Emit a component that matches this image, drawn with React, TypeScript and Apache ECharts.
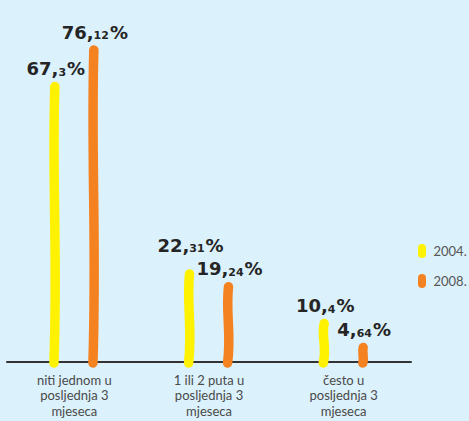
import React, { useEffect, useRef } from "react";
import * as echarts from "echarts";

const categories = [
  "niti jednom u\nposljednja 3\nmjeseca",
  "1 ili 2 puta u\nposljednja 3\nmjeseca",
  "često u\nposljednja 3\nmjeseca",
];
const seriesNames = ["2004.", "2008."];
const values2004 = [67.3, 22.31, 10.4];
const values2008 = [76.12, 19.24, 4.64];
const colors = ["#fff200", "#f58220"];
// extra lift (px) of value labels to keep neighbouring labels apart
const labelLift2004 = [0, 11, 0];
const labelLift2008 = [0, 0, 0];

const FONT = "Lato, 'Noto Sans', sans-serif";
const LABEL_FONT = "'DejaVu Sans', sans-serif";

function labelText(v: number) {
  const [a, b] = String(v).split(".");
  return `{big|${a},}{small|${b ?? ""}}{big|%}`;
}

function makeRender(offset: number, color: string, lifts: number[]) {
  return (params: any, api: any) => {
    const i = api.value(0);
    const v = api.value(1);
    const top = api.coord([i, v]);
    const base = api.coord([i, 0]);
    const x = top[0] + offset;
    const lw = 9.5;
    const y1 = base[1] + 1;
    const y2 = top[1] + lw / 2;
    const h = y1 - y2;
    const w = Math.min(3, h * 0.08);
    const lift = lifts[params.dataIndex] || 0;
    return {
      type: "group",
      children: [
        {
          type: "bezierCurve",
          shape: {
            x1: x - w * 0.3,
            y1,
            x2: x,
            y2,
            cpx1: x + w,
            cpy1: y1 - h * 0.4,
            cpx2: x - w,
            cpy2: y1 - h * 0.65,
          },
          style: { stroke: color, lineWidth: lw, fill: null, lineCap: "round" },
        },
        {
          type: "text",
          x: x + 1,
          y: top[1] - 4 - lift,
          style: {
            text: labelText(v),
            align: "center",
            verticalAlign: "bottom",
            fill: "#222",
            rich: {
              big: {
                fontSize: 18,
                fontWeight: "bold",
                fontFamily: LABEL_FONT,
                fill: "#252525",
                lineHeight: 20,
                verticalAlign: "bottom",
              },
              small: {
                fontSize: 11,
                fontWeight: "bold",
                fontFamily: LABEL_FONT,
                fill: "#252525",
                lineHeight: 20,
                verticalAlign: "bottom",
                padding: [0, 1, 0, 0],
              },
            },
          },
        },
      ],
    };
  };
}

const pill = "path://M4,0 A4,4 0 0 1 8,4 L8,10 A4,4 0 0 1 0,10 L0,4 A4,4 0 0 1 4,0 Z";

export default function App() {
  const ref = useRef<HTMLDivElement>(null);
  useEffect(() => {
    if (!ref.current) return;
    const chart = echarts.init(ref.current, undefined, { renderer: "svg" });
    chart.setOption({
      animation: false,
      backgroundColor: "#dbf1fc",
      grid: { left: 7, right: 58, top: 29, bottom: 59 },
      legend: {
        orient: "vertical",
        left: 418,
        top: 244,
        padding: 0,
        itemWidth: 9,
        itemHeight: 14,
        itemGap: 16,
        icon: pill,
        data: seriesNames,
        textStyle: { color: "#555", fontSize: 13, fontFamily: FONT, padding: [0, 0, 0, 2] },
      },
      xAxis: {
        type: "category",
        data: categories,
        axisLine: { lineStyle: { color: "#333", width: 2 } },
        axisTick: { show: false },
        axisLabel: {
          color: "#4a4a4a",
          fontSize: 13,
          lineHeight: 15.5,
          fontFamily: FONT,
          margin: 10,
          interval: 0,
        },
      },
      yAxis: { type: "value", min: 0, max: 80, show: false, splitLine: { show: false } },
      series: [
        {
          name: seriesNames[0],
          type: "custom",
          itemStyle: { color: colors[0] },
          encode: { x: 0, y: 1 },
          data: values2004.map((v, i) => [i, v]),
          renderItem: makeRender(-19.5, colors[0], labelLift2004),
          z: 3,
        },
        {
          name: seriesNames[1],
          type: "custom",
          itemStyle: { color: colors[1] },
          encode: { x: 0, y: 1 },
          data: values2008.map((v, i) => [i, v]),
          renderItem: makeRender(19.5, colors[1], labelLift2008),
          z: 3,
        },
      ],
    });
    return () => chart.dispose();
  }, []);
  return (
    <div
      ref={ref}
      style={{ position: "fixed", left: 0, top: 0, width: 469, height: 421 }}
    />
  );
}
